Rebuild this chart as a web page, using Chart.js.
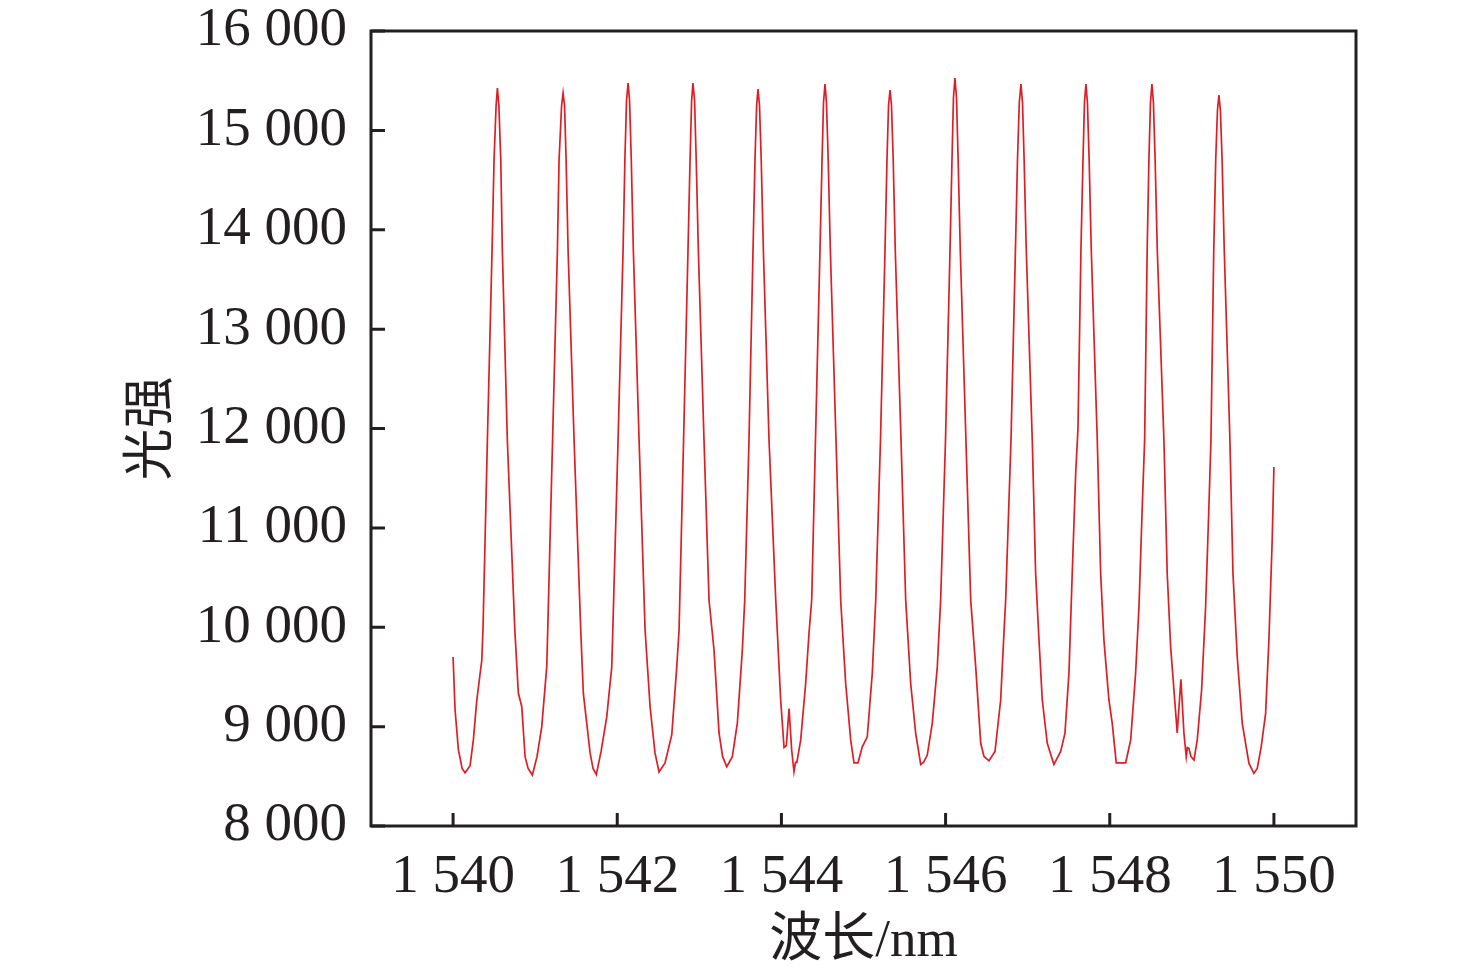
<!DOCTYPE html>
<html>
<head>
<meta charset="utf-8">
<script src="https://cdn.jsdelivr.net/npm/chart.js@4/dist/chart.umd.min.js"></script>
<style>
  html, body { margin: 0; padding: 0; background: #fff; }
  canvas { display: block; }
</style>
</head>
<body>
<canvas id="spectrum" width="1476" height="974"></canvas>
<script>
// axis ticks
const xTicks = [1540, 1542, 1544, 1546, 1548, 1550];
const yTicks = [8000, 9000, 10000, 11000, 12000, 13000, 14000, 15000, 16000];

// spectrum (wavelength nm / intensity)
const wavelength = [
  1540.000, 1540.024, 1540.065, 1540.110, 1540.146, 1540.207, 1540.247, 1540.289, 1540.350, 1540.365,
  1540.418, 1540.475, 1540.499, 1540.524, 1540.540, 1540.558, 1540.581, 1540.600, 1540.661, 1540.752,
  1540.795, 1540.837, 1540.877, 1540.914, 1540.966, 1541.023, 1541.080, 1541.141, 1541.153,
  1541.212, 1541.271, 1541.291, 1541.322, 1541.340, 1541.358, 1541.377, 1541.401, 1541.474, 1541.555,
  1541.587, 1541.669, 1541.705, 1541.745, 1541.803, 1541.872, 1541.933, 1541.946,
  1542.010, 1542.071, 1542.093, 1542.113, 1542.132, 1542.150, 1542.171, 1542.196, 1542.266, 1542.339,
  1542.400, 1542.460, 1542.509, 1542.582, 1542.664, 1542.725, 1542.753,
  1542.808, 1542.862, 1542.887, 1542.906, 1542.923, 1542.942, 1542.962, 1542.988, 1543.057, 1543.118,
  1543.179, 1543.240, 1543.283, 1543.334, 1543.402, 1543.463, 1543.524, 1543.553,
  1543.605, 1543.654, 1543.678, 1543.698, 1543.715, 1543.733, 1543.754, 1543.780, 1543.849, 1543.931,
  1543.991, 1544.032, 1544.060, 1544.093, 1544.125, 1544.153, 1544.172, 1544.188, 1544.235, 1544.296,
  1544.336, 1544.369,
  1544.415, 1544.470, 1544.495, 1544.513, 1544.531, 1544.549, 1544.570, 1544.596, 1544.665, 1544.722,
  1544.783, 1544.844, 1544.884, 1544.933, 1544.985, 1545.046, 1545.107, 1545.149,
  1545.207, 1545.262, 1545.286, 1545.305, 1545.323, 1545.341, 1545.362, 1545.387, 1545.457, 1545.514,
  1545.575, 1545.636, 1545.697, 1545.731, 1545.777, 1545.838, 1545.899, 1545.940,
  1545.999, 1546.054, 1546.078, 1546.096, 1546.114, 1546.133, 1546.153, 1546.179, 1546.248, 1546.306,
  1546.367, 1546.428, 1546.468, 1546.529, 1546.602, 1546.671, 1546.711, 1546.732,
  1546.797, 1546.851, 1546.876, 1546.898, 1546.918, 1546.937, 1546.957, 1546.983, 1547.056, 1547.097,
  1547.138, 1547.178, 1547.239, 1547.320, 1547.402, 1547.454, 1547.503, 1547.543, 1547.585,
  1547.613, 1547.649, 1547.674, 1547.692, 1547.710, 1547.728, 1547.749, 1547.775, 1547.848, 1547.889,
  1547.929, 1547.990, 1548.030, 1548.079, 1548.194, 1548.255, 1548.315, 1548.356, 1548.396, 1548.425,
  1548.456, 1548.477, 1548.496, 1548.514, 1548.532, 1548.553, 1548.579, 1548.660, 1548.700, 1548.742,
  1548.782, 1548.822, 1548.867, 1548.904, 1548.932, 1548.946, 1548.965, 1548.989, 1549.026, 1549.066,
  1549.119, 1549.168, 1549.208, 1549.233,
  1549.267, 1549.291, 1549.312, 1549.330, 1549.348, 1549.369, 1549.395, 1549.464, 1549.501, 1549.553,
  1549.614, 1549.696, 1549.756, 1549.797, 1549.845, 1549.899, 1549.939, 1549.979, 1550.000
];
const intensity = [
  9700, 9170, 8765, 8580, 8536, 8607, 8866, 9268, 9670, 10000,
  11884, 13796, 14702, 15250, 15426, 15250, 14702, 13796, 11884, 9972,
  9338, 9200, 8697, 8580, 8513, 8700, 8998, 9601, 9972,
  11884, 13796, 14702, 15250, 15376, 15250, 14702, 13796, 11884, 9972,
  9334, 8735, 8580, 8518, 8750, 9098, 9601, 9972,
  11884, 13796, 14702, 15300, 15477, 15300, 14702, 13796, 11884, 9972,
  9200, 8735, 8543, 8634, 8916, 9601, 9972,
  11884, 13796, 14702, 15300, 15477, 15300, 14702, 13796, 11884, 10274,
  9771, 8936, 8700, 8596, 8697, 9036, 9771, 10274,
  11884, 13796, 14702, 15250, 15416, 15250, 14702, 13796, 11884, 10274,
  9268, 8790, 8810, 9183, 8765, 8546, 8640, 8640, 8866, 9439,
  9940, 10274,
  11884, 13796, 14702, 15280, 15467, 15280, 14702, 13796, 11884, 10274,
  9434, 8866, 8636, 8636, 8797, 8898, 9537, 10274,
  11884, 13796, 14702, 15250, 15406, 15250, 14702, 13796, 11884, 10274,
  9434, 8931, 8619, 8640, 8714, 9036, 9601, 10274,
  11884, 13796, 14702, 15330, 15527, 15330, 14702, 13796, 11884, 10274,
  9601, 8832, 8700, 8656, 8750, 9268, 9940, 10274,
  11884, 13796, 14702, 15280, 15467, 15280, 14702, 13796, 11884, 10543,
  9871, 9268, 8832, 8619, 8750, 8931, 9537, 10543, 11550,
  12000, 13796, 14702, 15280, 15467, 15280, 14702, 13796, 11884, 10543,
  9871, 9268, 9036, 8636, 8636, 8866, 9537, 10207, 11213, 11884,
  13796, 14702, 15280, 15467, 15280, 14702, 13796, 11884, 10543, 9803,
  9369, 8937, 9477, 8931, 8697, 8790, 8782, 8700, 8664, 8866,
  9369, 10207, 11213, 11884,
  13796, 14702, 15200, 15356, 15200, 14702, 13796, 11884, 10543, 9703,
  9036, 8629, 8529, 8579, 8797, 9133, 9871, 10878, 11612
];

const points = wavelength.map((w, i) => ({ x: w, y: intensity[i] }));

function spaced(v) {
  return String(v).replace(/\B(?=(\d{3})+(?!\d))/g, " ");
}

const axisColor = "#231f20";

// box round the plot + inward tick marks
const frame = {
  id: "frame",
  afterDraw(chart) {
    const ctx = chart.ctx;
    const a = chart.chartArea;
    const sx = chart.scales.x, sy = chart.scales.y;
    ctx.save();
    ctx.strokeStyle = axisColor;
    ctx.lineWidth = 3;
    ctx.strokeRect(a.left, a.top, a.right - a.left, a.bottom - a.top);
    ctx.beginPath();
    xTicks.forEach((v) => {
      const px = sx.getPixelForValue(v);
      ctx.moveTo(px, a.bottom);
      ctx.lineTo(px, a.bottom - 13);
    });
    yTicks.forEach((v) => {
      const py = sy.getPixelForValue(v);
      ctx.moveTo(a.left, py);
      ctx.lineTo(a.left + 14, py);
    });
    ctx.stroke();
    ctx.restore();
  },
};

new Chart(document.getElementById("spectrum"), {
  type: "line",
  data: {
    datasets: [
      {
        label: "光强",
        data: points,
        borderColor: "rgb(222,30,36)",
        borderWidth: 1.7,
        pointRadius: 0,
        tension: 0,
        fill: false,
      },
    ],
  },
  options: {
    responsive: false,
    animation: false,
    devicePixelRatio: 1,
    layout: { padding: { left: 0, right: 120, top: 31, bottom: 0 } },
    plugins: {
      legend: { display: false },
      tooltip: { enabled: false },
    },
    scales: {
      x: {
        type: "linear",
        min: 1539,
        max: 1551,
        grid: { display: false },
        border: { display: false },
        afterBuildTicks: (s) => { s.ticks = xTicks.map((v) => ({ value: v })); },
        afterFit: (s) => {
          s.height = 148;
          s.paddingLeft = 0;
          s.paddingRight = 0;
        },
        ticks: {
          padding: 11,
          color: "#231f20",
          font: { family: "'Liberation Serif', serif", size: 55 },
          callback: (v) => spaced(v),
        },
        title: {
          display: true,
          text: "波长/nm",
          color: "#231f20",
          font: { family: "'Liberation Serif', 'Noto Sans CJK SC', serif", size: 53 },
          padding: { top: 0, bottom: 0 },
        },
      },
      y: {
        min: 8000,
        max: 16000,
        grid: { display: false },
        border: { display: false },
        afterBuildTicks: (s) => { s.ticks = yTicks.map((v) => ({ value: v })); },
        afterFit: (s) => {
          s.width = 371;
          s.paddingTop = 0;
          s.paddingBottom = 0;
        },
        ticks: {
          padding: 16,
          color: "#231f20",
          font: { family: "'Liberation Serif', serif", size: 55 },
          callback: (v) => spaced(v),
        },
        title: {
          display: true,
          text: "光强",
          color: "#231f20",
          font: { family: "'Noto Sans CJK SC', serif", size: 52 },
          padding: { top: 116, bottom: 0 },
        },
      },
    },
  },
  plugins: [frame],
});
</script>
</body>
</html>
